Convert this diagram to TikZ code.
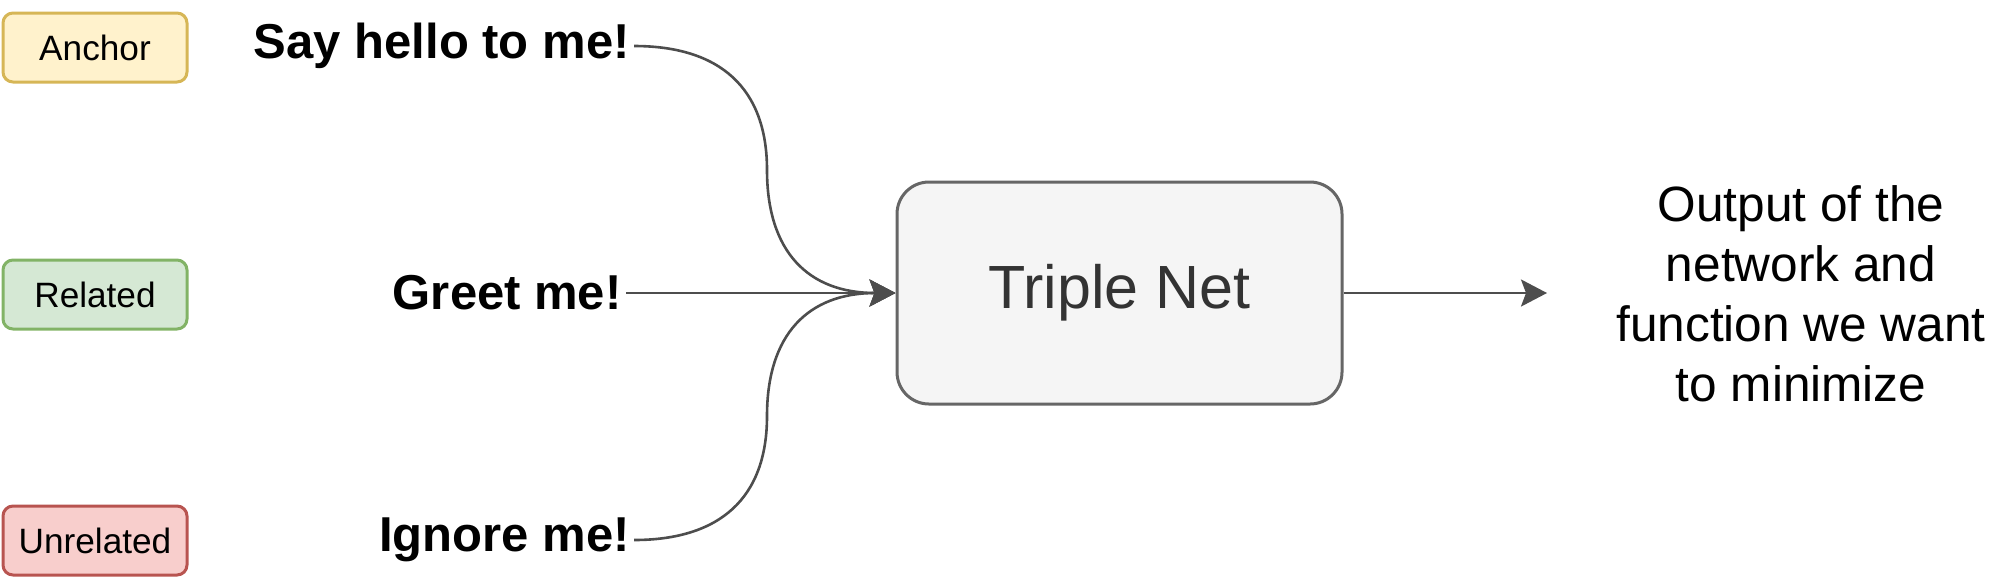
\documentclass[tikz,border=0pt]{standalone}
\usepackage{fontspec}
\setmainfont{Liberation Sans}
\usepackage{xcolor}
\usetikzlibrary{arrows.meta}

\definecolor{ancfill}{HTML}{FFF2CC}
\definecolor{ancline}{HTML}{D6B656}
\definecolor{relfill}{HTML}{D5E8D4}
\definecolor{relline}{HTML}{82B366}
\definecolor{unrfill}{HTML}{F8CECC}
\definecolor{unrline}{HTML}{B85450}
\definecolor{netfill}{HTML}{F5F5F5}
\definecolor{netline}{HTML}{666666}
\definecolor{wiregray}{HTML}{4D4D4D}

\begin{document}
\begin{tikzpicture}[x=0.5pt,y=-0.5pt,
  tag/.style={draw,line width=1.5pt,rounded corners=5pt,minimum width=92pt,
    minimum height=34.5pt,font=\fontsize{17.6}{21}\selectfont},
  sentence/.style={inner sep=2pt,anchor=east,font=\fontsize{24.5}{29}\selectfont\bfseries},
  wire/.style={draw=wiregray,line width=1.3pt,-{Stealth[length=13pt,width=13.5pt,inset=2.5pt]}}]

    \useasboundingbox (0,0) rectangle (2000,586);

    % the three kinds of input
    \node[tag,draw=ancline,fill=ancfill] (anchor) at (95,47.5) {Anchor};
    \node[tag,draw=relline,fill=relfill] (related) at (95,294.5) {Related};
    \node[tag,draw=unrline,fill=unrfill] (unrelated) at (95,540.5) {Unrelated};

    % the sentences
    \node[sentence] (say) at (634,46) {Say hello to me!};
    \node[sentence] (greet) at (626,293) {Greet me!};
    \node[sentence] (ignore) at (634,540) {Ignore me!};

    % network and what it gives
    \node[draw=netline,fill=netfill,line width=1.5pt,rounded corners=16pt,
      minimum width=222.5pt,minimum height=111pt,text=black!80,
      font=\fontsize{30.5}{36}\selectfont] (net) at (1119.5,293) {Triple Net};
    \node[align=center,font=\fontsize{24.8}{30}\selectfont] (out) at (1801,293.5)
      {Output of the\\network and\\function we want\\to minimize};
    \coordinate (outend) at (1547,293);

    \coordinate (bendup) at (767,170);
    \coordinate (benddown) at (767,416);

    \draw[wire] (say.east) .. controls +(86,0) and +(0,-82) .. (bendup)
        .. controls +(0,82) and +(-87,0) .. (net.west);
    \draw[wire] (greet.east) -- (net.west);
    \draw[wire] (ignore.east) .. controls +(86,0) and +(0,82) .. (benddown)
        .. controls +(0,-82) and +(-87,0) .. (net.west);
    \draw[wire] (net.east) -- (outend);

\end{tikzpicture}
\end{document}
